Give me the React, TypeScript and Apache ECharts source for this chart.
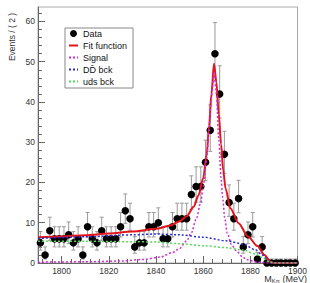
import React, { useEffect, useRef } from "react";
import * as echarts from "echarts";

// Bin centres (MeV) and event counts per 2 MeV bin
const binCenters = [
  1791, 1793, 1795, 1797, 1799, 1801, 1803, 1805, 1807, 1809,
  1811, 1813, 1815, 1817, 1819, 1821, 1823, 1825, 1827, 1829,
  1831, 1833, 1835, 1837, 1839, 1841, 1843, 1845, 1847, 1849,
  1851, 1853, 1855, 1857, 1859, 1861, 1863, 1865, 1867, 1869,
  1871, 1873, 1875, 1877, 1879, 1881, 1883, 1885, 1887, 1889,
  1891, 1893, 1895, 1897, 1899,
];
const counts = [
  5, 2, 8, 6, 6, 6, 7, 5, 6, 2,
  9, 6, 5, 8, 6, 6, 6, 9, 13, 11,
  4, 5, 5, 9, 9, 10, 6, 6, 9, 11,
  11, 11, 17, 19, 19, 25, 33, 52, 42, 27,
  15, 11, 16, 4, 7, 9, 1, 4, 0, 0,
  0, 0, 0, 0, 0,
];

// Curves: [mass, events]
const fitCurve: [number, number][] = [
  [1790, 6.4], [1800, 6.6], [1810, 6.9], [1820, 7.3], [1830, 7.8], [1840, 8.5],
  [1846, 9.3], [1850, 10.4], [1853, 11.6], [1856, 14.0], [1858, 16.8], [1860, 21.0],
  [1861.5, 27.0], [1862.5, 34.0], [1863.5, 42.0], [1864.6, 49.5], [1865.6, 45.0],
  [1866.6, 37.0], [1867.6, 29.5], [1868.5, 23.0], [1869.5, 18.5], [1871.5, 13.6],
  [1875, 9.9], [1879, 6.6], [1883, 4.2], [1886, 2.0], [1888.5, 0.3], [1890, 0], [1900, 0],
];
const signalCurve: [number, number][] = [
  [1790, 0.2], [1810, 0.3], [1825, 0.5], [1835, 0.9], [1842, 1.5], [1847, 2.6],
  [1850, 3.6], [1853, 5.5], [1855, 7.5], [1857, 10.8], [1859, 15.0], [1860, 19.0],
  [1861.5, 26.0], [1862.5, 33.0], [1863.5, 41.0], [1864.6, 47.5], [1865.6, 42.0],
  [1866.6, 31.0], [1867.6, 21.0], [1868.2, 16.5], [1869.2, 11.0], [1870.2, 7.4],
  [1872, 4.6], [1874, 3.1], [1876.5, 1.6], [1878.5, 0.8], [1883, 0.2], [1888, 0], [1900, 0],
];
const ddCurve: [number, number][] = [
  [1790, 6.1], [1810, 6.5], [1830, 7.0], [1840, 7.2], [1850, 7.0], [1860, 6.4],
  [1870, 5.5], [1877, 4.7], [1882, 3.3], [1885, 2.0], [1888, 0.4], [1890, 0], [1900, 0],
];
const udsCurve: [number, number][] = [
  [1790, 5.4], [1810, 5.4], [1830, 5.3], [1840, 5.2], [1850, 4.8], [1860, 4.3],
  [1870, 3.8], [1877, 3.2], [1882, 2.3], [1885, 1.4], [1888, 0.3], [1890, 0], [1900, 0],
];

const xLabelTicks = [1800, 1820, 1840, 1860, 1880, 1900];
const yLabelTicks = [0, 10, 20, 30, 40, 50, 60];
const xMinorTicks: number[] = [];
for (let v = 1792; v <= 1900; v += 4) if (v % 20 !== 0) xMinorTicks.push(v);
const yMinorTicks: number[] = [];
for (let v = 2; v <= 62; v += 2) if (v % 10 !== 0) yMinorTicks.push(v);

const legendNames = ["Data", "Fit function", "Signal", "D\u0044\u0304 bck", "uds bck"];

const FONT = "Liberation Sans, Arial, Helvetica, sans-serif";
const TXT = "#333";

export default function App() {
  const ref = useRef<HTMLDivElement>(null);
  useEffect(() => {
    if (!ref.current) return;
    const chart = echarts.init(ref.current, null, { renderer: "svg" });
    const points = binCenters.map((x, i) => [x, counts[i]]);
    const errData = binCenters.map((x, i) => {
      const n = counts[i];
      const s = Math.sqrt(n + 0.25);
      return [x, Math.max(0, n - (s - 0.5)), n + s + 0.5];
    });
    const dotted = [2, 2];
    const hideMarker = { opacity: 0, color: "transparent", borderWidth: 0 };
    const option: any = {
      animation: false,
      backgroundColor: "#fff",
      grid: {
        left: 38, right: 7, top: 7, bottom: 20,
        show: true, borderColor: "#aaa", borderWidth: 1,
        containLabel: false,
      },
      xAxis: [
        {
          type: "value", min: 1790, max: 1900, position: "bottom",
          axisLine: { show: true, lineStyle: { color: "#666", width: 1 } },
          axisTick: { show: true, inside: true, length: 7, customValues: xLabelTicks, lineStyle: { color: "#666" } },
          axisLabel: {
            customValues: xLabelTicks, fontSize: 8.5, color: TXT, margin: 3, fontFamily: FONT,
            formatter: (v: number) => String(v),
          },
          splitLine: { show: false },
        },
        {
          type: "value", min: 1790, max: 1900, position: "bottom", offset: 0,
          axisLine: { show: false },
          axisTick: { show: true, inside: true, length: 4, customValues: xMinorTicks, lineStyle: { color: "#666" } },
          axisLabel: { show: false },
          splitLine: { show: false },
        },
      ],
      yAxis: [
        {
          type: "value", min: 0, max: 63.6, position: "left",
          axisLine: { show: true, lineStyle: { color: "#666", width: 1 } },
          axisTick: { show: true, inside: true, length: 7, customValues: yLabelTicks, lineStyle: { color: "#666" } },
          axisLabel: {
            customValues: yLabelTicks, fontSize: 8.5, color: TXT, margin: 3, fontFamily: FONT,
            formatter: (v: number) => String(v),
          },
          splitLine: { show: false },
        },
        {
          type: "value", min: 0, max: 63.6, position: "left", offset: 0,
          axisLine: { show: false },
          axisTick: { show: true, inside: true, length: 4, customValues: yMinorTicks, lineStyle: { color: "#666" } },
          axisLabel: { show: false },
          splitLine: { show: false },
        },
      ],
      legend: {
        orient: "vertical", left: 65, top: 28,
        padding: [1, 6, 2, 3], itemGap: 3, itemWidth: 9, itemHeight: 7,
        backgroundColor: "#fff", borderColor: "#888", borderWidth: 1, borderRadius: 0,
        textStyle: { fontSize: 9, color: "#111", fontFamily: FONT },
        data: [
          { name: legendNames[0], icon: "circle", itemStyle: { color: "#000", opacity: 1 } },
          { name: legendNames[1], itemStyle: hideMarker },
          { name: legendNames[2], itemStyle: hideMarker },
          { name: legendNames[3], itemStyle: hideMarker },
          { name: legendNames[4], itemStyle: hideMarker },
        ],
      },
      graphic: [
        {
          type: "text", x: 11.5, y: 37, rotation: Math.PI / 2,
          style: { text: "Events / ( 2 )", fontSize: 8.5, fill: TXT, fontFamily: FONT, align: "center", verticalAlign: "middle" },
        },
        {
          type: "text", x: 307, y: 279,
          style: {
            text: "{a|M}{b|Kπ}{a| (MeV)}",
            align: "right", verticalAlign: "middle",
            rich: {
              a: { fontSize: 9, fill: TXT, fontFamily: FONT },
              b: { fontSize: 6, fill: TXT, fontFamily: FONT, padding: [4, 0, 0, 0] },
            },
          },
        },
      ],
      series: [
        {
          type: "custom", name: "DataErrors", silent: true, clip: false, z: 1,
          data: errData,
          encode: { x: 0, y: [1, 2] },
          renderItem: (params: any, api: any) => {
            const x = api.value(0);
            const lo = api.coord([x, api.value(1)]);
            const hi = api.coord([x, api.value(2)]);
            const cap = 2;
            const st = { stroke: "#999", lineWidth: 1 };
            return {
              type: "group",
              children: [
                { type: "line", shape: { x1: lo[0], y1: lo[1], x2: hi[0], y2: hi[1] }, style: st },
                { type: "line", shape: { x1: hi[0] - cap, y1: hi[1], x2: hi[0] + cap, y2: hi[1] }, style: st },
                { type: "line", shape: { x1: lo[0] - cap, y1: lo[1], x2: lo[0] + cap, y2: lo[1] }, style: st },
              ],
            };
          },
        },
        {
          type: "scatter", name: legendNames[0], data: points, symbol: "circle", symbolSize: 7.5,
          itemStyle: { color: "#000", opacity: 1 }, clip: false, z: 2,
        },
        {
          type: "line", name: legendNames[1], data: fitCurve, showSymbol: false, symbol: "none",
          smooth: 0.3, smoothMonotone: "x", z: 3,
          lineStyle: { color: "#e3141c", width: 2 }, itemStyle: { color: "#e3141c" },
        },
        {
          type: "line", name: legendNames[2], data: signalCurve, showSymbol: false, symbol: "none",
          smooth: 0.3, smoothMonotone: "x", z: 4,
          lineStyle: { color: "#d12fd1", width: 1.5, type: dotted }, itemStyle: { color: "#d12fd1" },
        },
        {
          type: "line", name: legendNames[3], data: ddCurve, showSymbol: false, symbol: "none",
          smooth: 0.3, smoothMonotone: "x", z: 4,
          lineStyle: { color: "#2a2ad0", width: 1.5, type: dotted }, itemStyle: { color: "#2a2ad0" },
        },
        {
          type: "line", name: legendNames[4], data: udsCurve, showSymbol: false, symbol: "none",
          smooth: 0.3, smoothMonotone: "x", z: 4,
          lineStyle: { color: "#5ad65a", width: 1.5, type: dotted }, itemStyle: { color: "#5ad65a" },
        },
      ],
    };
    chart.setOption(option);
    return () => chart.dispose();
  }, []);
  return (
    <div
      ref={ref}
      style={{ position: "absolute", left: 0, top: 0, width: 310, height: 283, background: "#fff" }}
    />
  );
}
